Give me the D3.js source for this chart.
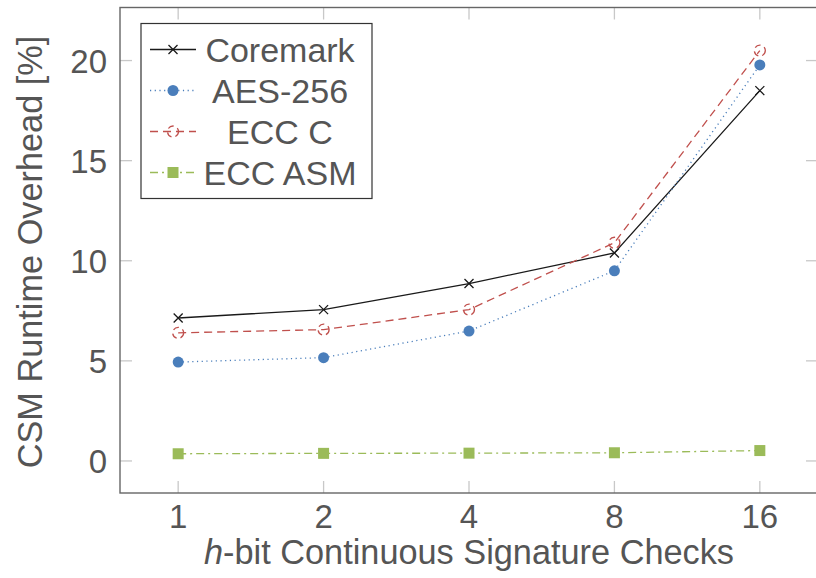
<!DOCTYPE html>
<html>
<head>
<meta charset="utf-8">
<script src="https://cdn.jsdelivr.net/npm/d3@7"></script>
<style>
  body { margin: 0; background: #fff; }
  svg { display: block; font-family: "Liberation Sans", Arial, sans-serif; }
</style>
</head>
<body>
<svg id="svg1" width="816" height="578"></svg>
<script>
// data
var checks = [1, 2, 4, 8, 16];
var coremark = [7.14, 7.56, 8.86, 10.39, 18.5];
var aes256 = [4.94, 5.16, 6.49, 9.5, 19.78];
var eccC = [6.4, 6.56, 7.56, 10.9, 20.5];
var eccAsm = [0.36, 0.38, 0.39, 0.41, 0.52];
var yTicks = [0, 5, 10, 15, 20];

var series = [
  {name: 'Coremark', values: coremark, color: '#1a1a1a', dash: null, mark: 'x'},
  {name: 'AES-256', values: aes256, color: '#4a7ebb', dash: '1.2,3.5', mark: 'dot'},
  {name: 'ECC C', values: eccC, color: '#c0504d', dash: '8,5', mark: 'o'},
  {name: 'ECC ASM', values: eccAsm, color: '#9bbb59', dash: '8,4,2,4', mark: 'square'}
];

var svg = d3.select('svg');
var textColor = '#555';

var plotLeft = 120, plotRight = 818, plotTop = 7.5, plotBottom = 493;

// log2 x axis, padded by 0.4 on each side
var x = d3.scaleLog().base(2)
    .domain([Math.pow(2, -0.4), Math.pow(2, 4.4)])
    .range([plotLeft, plotRight]);

var y = d3.scaleLinear()
    .domain([-1.6, 22.65])
    .range([plotBottom, plotTop]);

// tick marks (inward, all four sides)
var tickLen = 12;
var g = svg.append('g');
checks.forEach(function(c){
  g.append('line').attr('x1', x(c)).attr('x2', x(c)).attr('y1', plotBottom).attr('y2', plotBottom - tickLen)
    .attr('stroke', '#c8c8c8').attr('stroke-width', 1.3);
  g.append('line').attr('x1', x(c)).attr('x2', x(c)).attr('y1', plotTop).attr('y2', plotTop + tickLen)
    .attr('stroke', '#c8c8c8').attr('stroke-width', 1.3);
});
yTicks.forEach(function(t){
  g.append('line').attr('x1', plotLeft).attr('x2', plotLeft + tickLen).attr('y1', y(t)).attr('y2', y(t))
    .attr('stroke', '#c8c8c8').attr('stroke-width', 1.3);
  g.append('line').attr('x1', plotRight).attr('x2', plotRight - tickLen).attr('y1', y(t)).attr('y2', y(t))
    .attr('stroke', '#c8c8c8').attr('stroke-width', 1.3);
});

// frame
svg.append('rect')
    .attr('x', plotLeft).attr('y', plotTop)
    .attr('width', plotRight - plotLeft).attr('height', plotBottom - plotTop)
    .attr('fill', 'none').attr('stroke', '#666').attr('stroke-width', 1.4);

// tick labels
svg.selectAll('.xlab').data(checks).enter().append('text')
    .attr('x', function(d){ return x(d); })
    .attr('y', 528)
    .attr('text-anchor', 'middle')
    .attr('font-size', 33)
    .attr('fill', textColor)
    .text(function(d){ return d; });

svg.selectAll('.ylab').data(yTicks).enter().append('text')
    .attr('x', 107)
    .attr('y', function(d){ return y(d) + 12; })
    .attr('text-anchor', 'end')
    .attr('font-size', 33)
    .attr('fill', textColor)
    .text(function(d){ return d; });

// axis titles
var xt = svg.append('text')
    .attr('x', 469).attr('y', 564)
    .attr('text-anchor', 'middle')
    .attr('font-size', 34.3)
    .attr('fill', textColor);
xt.append('tspan').attr('font-style', 'italic').text('h');
xt.append('tspan').text('-bit Continuous Signature Checks');

svg.append('text')
    .attr('transform', 'translate(42,252) rotate(-90)')
    .attr('text-anchor', 'middle')
    .attr('font-size', 34.3)
    .attr('fill', textColor)
    .text('CSM Runtime Overhead [%]');

// markers
function drawMark(sel, s, cx, cy){
  if (s.mark === 'x') {
    sel.append('path')
      .attr('d', 'M' + (cx-4.5) + ',' + (cy-4.5) + 'L' + (cx+4.5) + ',' + (cy+4.5) +
                 'M' + (cx-4.5) + ',' + (cy+4.5) + 'L' + (cx+4.5) + ',' + (cy-4.5))
      .attr('stroke', s.color).attr('stroke-width', 1.3).attr('fill', 'none');
  } else if (s.mark === 'dot') {
    sel.append('circle').attr('cx', cx).attr('cy', cy).attr('r', 5.5).attr('fill', s.color);
  } else if (s.mark === 'o') {
    sel.append('circle').attr('cx', cx).attr('cy', cy).attr('r', 5.5)
      .attr('fill', 'none').attr('stroke', s.color).attr('stroke-width', 1.3)
      .attr('stroke-dasharray', '6,4');
  } else {
    sel.append('rect').attr('x', cx - 5.5).attr('y', cy - 5.5).attr('width', 11).attr('height', 11)
      .attr('fill', s.color);
  }
}

var line = d3.line()
    .x(function(d){ return x(d[0]); })
    .y(function(d){ return y(d[1]); });

series.forEach(function(s){
  var pts = checks.map(function(c, i){ return [c, s.values[i]]; });
  var sg = svg.append('g');
  sg.append('path')
    .attr('d', line(pts))
    .attr('fill', 'none')
    .attr('stroke', s.color)
    .attr('stroke-width', 1.3)
    .attr('stroke-dasharray', s.dash);
  pts.forEach(function(p){ drawMark(sg, s, x(p[0]), y(p[1])); });
});

// legend
var lg = svg.append('g');
lg.append('rect')
    .attr('x', 141).attr('y', 23.5)
    .attr('width', 231).attr('height', 175)
    .attr('fill', '#fff').attr('stroke', '#333').attr('stroke-width', 1.2);

var rowY = [49.5, 90.5, 131.5, 172.5];
series.forEach(function(s, i){
  var ry = rowY[i];
  lg.append('line')
    .attr('x1', 150).attr('x2', 196).attr('y1', ry).attr('y2', ry)
    .attr('stroke', s.color).attr('stroke-width', 1.3)
    .attr('stroke-dasharray', s.dash);
  drawMark(lg, s, 173, ry);
  lg.append('text')
    .attr('x', 280).attr('y', ry + 12.5)
    .attr('text-anchor', 'middle')
    .attr('font-size', 34)
    .attr('fill', textColor)
    .text(s.name);
});
</script>
</body>
</html>
